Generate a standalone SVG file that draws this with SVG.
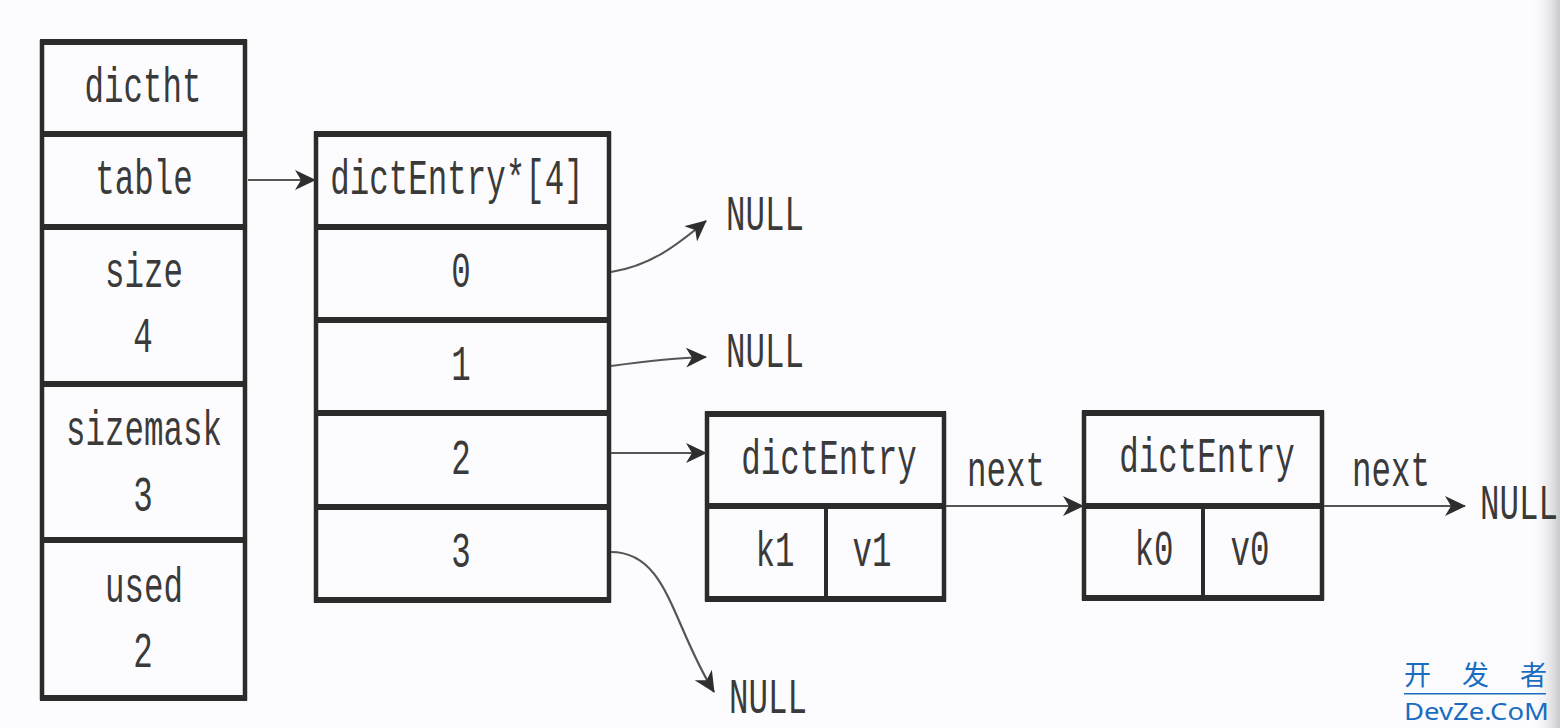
<svg xmlns="http://www.w3.org/2000/svg" width="1560" height="728" viewBox="0 0 1560 728">
<defs>
<linearGradient id="edge" x1="0" y1="0" x2="1" y2="0">
<stop offset="0" stop-color="#fcfcfe" stop-opacity="0"/>
<stop offset="1" stop-color="#c9c9cc"/>
</linearGradient>
<marker id="arr" markerUnits="userSpaceOnUse" markerWidth="22" markerHeight="20" viewBox="0 0 22 20" refX="20" refY="10" orient="auto">
<path d="M0,0 L21,10 L0,20 L6,10 z" fill="#2e2e2e"/>
</marker>
<style>
.box{fill:none;stroke:#2b2b2b;stroke-width:4.5}
.hl{stroke:#2b2b2b;stroke-width:6;fill:none}
.vl{stroke:#2b2b2b;stroke-width:4;fill:none}
.t{font-family:"Liberation Mono","Courier New",monospace;font-size:50px;fill:#3a3a3a;text-anchor:middle}
.c{fill:none;stroke:#555;stroke-width:2.2;marker-end:url(#arr)}
</style>
</defs>
<rect x="0" y="0" width="1560" height="728" fill="#fcfcfe"/>
<rect x="1530" y="0" width="30" height="728" fill="url(#edge)"/>

<g id="dictht">
<rect class="box" x="42" y="42" width="203" height="656"/>
<path class="hl" d="M40,42H247M40,134H247M40,227H247M40,384H247M40,540H247M40,698H247"/>
<text class="t" transform="translate(143,102) scale(0.65,1)">dictht</text>
<text class="t" transform="translate(144,194) scale(0.65,1)">table</text>
<text class="t" transform="translate(144,287) scale(0.65,1)">size</text>
<text class="t" transform="translate(143,352) scale(0.65,1)">4</text>
<text class="t" transform="translate(144,445) scale(0.65,1)">sizemask</text>
<text class="t" transform="translate(143,511) scale(0.65,1)">3</text>
<text class="t" transform="translate(144,602) scale(0.65,1)">used</text>
<text class="t" transform="translate(143,667) scale(0.65,1)">2</text>
</g>

<g id="table">
<rect class="box" x="316" y="134" width="293" height="466"/>
<path class="hl" d="M314,134H611M314,227H611M314,320H611M314,413H611M314,507H611M314,600H611"/>
<text class="t" transform="translate(457,194) scale(0.65,1)">dictEntry*[4]</text>
<text class="t" transform="translate(461,287) scale(0.65,1)">0</text>
<text class="t" transform="translate(461,380) scale(0.65,1)">1</text>
<text class="t" transform="translate(461,474) scale(0.65,1)">2</text>
<text class="t" transform="translate(461,567) scale(0.65,1)">3</text>
</g>

<g id="entry1">
<rect class="box" x="707" y="414" width="237" height="185"/>
<path class="hl" d="M705,414H946M705,506H946M705,599H946"/>
<path class="vl" d="M826,506V599"/>
<text class="t" transform="translate(829,474) scale(0.65,1)">dictEntry</text>
<text class="t" transform="translate(775,566) scale(0.65,1)">k1</text>
<text class="t" transform="translate(872,566) scale(0.65,1)">v1</text>
</g>

<g id="entry0">
<rect class="box" x="1084" y="413" width="238" height="185"/>
<path class="hl" d="M1082,413H1324M1082,506H1324M1082,598H1324"/>
<path class="vl" d="M1203,506V598"/>
<text class="t" transform="translate(1207,472) scale(0.65,1)">dictEntry</text>
<text class="t" transform="translate(1154,565) scale(0.65,1)">k0</text>
<text class="t" transform="translate(1250,565) scale(0.65,1)">v0</text>
</g>

<g id="null0"><text class="t" transform="translate(765,230) scale(0.65,1)">NULL</text></g>
<g id="null1"><text class="t" transform="translate(765,367) scale(0.65,1)">NULL</text></g>
<g id="null3"><text class="t" transform="translate(768,713) scale(0.65,1)">NULL</text></g>
<g id="null4"><text class="t" transform="translate(1519,519) scale(0.65,1)">NULL</text></g>

<g id="connectors">
<path class="c" d="M248,180H315"/>
<path class="c" d="M611,272C650,266 676,246 706,221"/>
<path class="c" d="M611,366C640,362 672,358 706,357"/>
<path class="c" d="M611,453H706"/>
<path class="c" d="M611,552C668,552 672,625 714,692"/>
<path class="c" d="M946,506H1083"/>
<path class="c" d="M1324,506H1465"/>
<text class="t" transform="translate(1006,486) scale(0.65,1)">next</text>
<text class="t" transform="translate(1391,486) scale(0.65,1)">next</text>
</g>

<g id="watermark" fill="#1a6cc0">
<text x="1404" y="685" font-family="'Noto Sans CJK SC',sans-serif" font-size="27" textLength="143" lengthAdjust="spacing">开 发 者</text>
<rect x="1404" y="693" width="142" height="1.5"/>
<text x="1404" y="720" font-family="'Noto Sans',sans-serif" font-size="24" textLength="145" lengthAdjust="spacingAndGlyphs">DevZe.CoM</text>
</g>
</svg>
